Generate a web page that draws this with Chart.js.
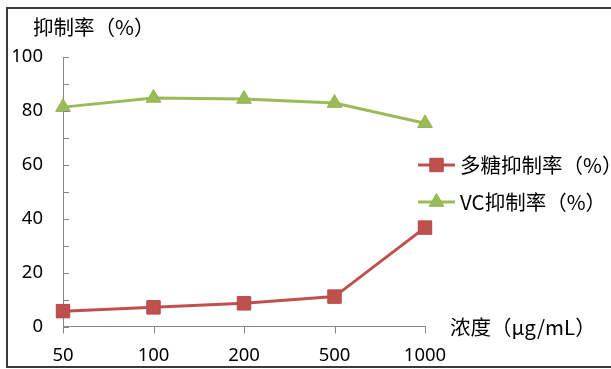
<!DOCTYPE html>
<html>
<head>
<meta charset="utf-8">
<script src="https://cdn.jsdelivr.net/npm/chart.js@4/dist/chart.umd.min.js"></script>
<style>
  html, body { margin: 0; padding: 0; background: #ffffff; }
  #wrap { position: relative; width: 611px; height: 369px; overflow: hidden; }
  #chart { position: absolute; left: 0; top: 0; }
  #frame {
    position: absolute; left: 6px; top: 7px; width: 620px; height: 357px;
    border: 2px solid #3a3a3a; pointer-events: none;
  }
</style>
</head>
<body>
<div id="wrap">
  <canvas id="chart" width="611" height="369"></canvas>
  <div id="frame"></div>
</div>
<script>
// Concentration groups on the x axis
const concentrations = ['50', '100', '200', '500', '1000'];
// Inhibition rate (%) of the polysaccharide sample
const polysaccharideRate = [5.7, 7.1, 8.6, 11.1, 36.7];
// Inhibition rate (%) of the VC control
const vcRate = [81.4, 84.8, 84.4, 82.9, 75.4];
// Value axis range, labelled and minor tick spacing
const yRange = [0, 100];
const yLabelStep = 20;
const yTickStep = 10;

const yTitle = '抑制率（%）';
const xTitle = '浓度（μg/mL）';
const seriesNames = ['多糖抑制率（%）', 'VC抑制率（%）'];

const RED = '#C0504D';
const GREEN = '#9BBB59';
const AXIS = '#868686';
const CJK_FONT = '"Noto Sans CJK SC", "Noto Sans", sans-serif';
const NUM_FONT = '"Noto Sans", "Liberation Sans", sans-serif';

// Tick marks, axis titles and the legend drawn on top of the chart
const decorations = {
  id: 'decorations',
  afterDraw(chart) {
    const ctx = chart.ctx;
    const xs = chart.scales.x, ys = chart.scales.y;
    const area = chart.chartArea;
    ctx.save();
    ctx.strokeStyle = AXIS;
    ctx.lineWidth = 1;
    ctx.beginPath();
    for (let v = yRange[0]; v <= yRange[1]; v += yTickStep) {
      const py = Math.round(ys.getPixelForValue(v)) + 0.5;
      ctx.moveTo(area.left, py);
      ctx.lineTo(area.left + 6, py);
    }
    concentrations.forEach((c, i) => {
      const px = Math.round(xs.getPixelForValue(i)) + 0.5;
      const py = ys.getPixelForValue(0);
      ctx.moveTo(px, py);
      ctx.lineTo(px, py + 7);
    });
    ctx.stroke();

    ctx.fillStyle = '#000000';
    ctx.font = '20.5px ' + CJK_FONT;
    ctx.textBaseline = 'middle';
    ctx.textAlign = 'left';
    ctx.fillText(yTitle, 33, 27);
    ctx.fillText(xTitle, 450, ys.getPixelForValue(0) + 1);

    // legend
    const rows = [165, 202];
    chart.data.datasets.forEach((ds, i) => {
      const y = rows[i];
      ctx.strokeStyle = ds.borderColor;
      ctx.lineWidth = ds.borderWidth;
      ctx.beginPath();
      ctx.moveTo(418, y);
      ctx.lineTo(455, y);
      ctx.stroke();
      ctx.fillStyle = ds.pointBackgroundColor;
      ctx.strokeStyle = ds.pointBorderColor;
      ctx.lineWidth = 1;
      Chart.helpers.drawPoint(ctx, {
        pointStyle: ds.pointStyle, rotation: 0, borderWidth: 1, radius: ds.pointRadius
      }, 436.5, y);
      ctx.fillStyle = '#000000';
      ctx.font = '20.5px ' + CJK_FONT;
      ctx.fillText(ds.label, 460, y);
    });
    ctx.restore();
  }
};

new Chart(document.getElementById('chart'), {
  type: 'line',
  data: {
    labels: concentrations,
    datasets: [
      {
        label: seriesNames[0],
        data: polysaccharideRate,
        borderColor: RED,
        backgroundColor: RED,
        borderWidth: 3,
        pointStyle: 'rect',
        pointRadius: 9.5,
        pointHoverRadius: 9.5,
        pointBackgroundColor: RED,
        pointBorderColor: '#B94643',
        pointBorderWidth: 1,
        tension: 0,
        clip: false
      },
      {
        label: seriesNames[1],
        data: vcRate,
        borderColor: GREEN,
        backgroundColor: GREEN,
        borderWidth: 3,
        pointStyle: 'triangle',
        pointRadius: 8.5,
        pointHoverRadius: 8.5,
        pointBackgroundColor: GREEN,
        pointBorderColor: '#93B352',
        pointBorderWidth: 1,
        tension: 0,
        clip: false
      }
    ]
  },
  options: {
    responsive: false,
    animation: false,
    events: [],
    layout: { padding: { left: 0, top: 57, right: 186, bottom: 0 } },
    plugins: { legend: { display: false }, tooltip: { enabled: false }, title: { display: false } },
    scales: {
      x: {
        type: 'category',
        offset: false,
        grid: { display: false, drawTicks: false, tickLength: 0 },
        border: { display: true, color: AXIS, width: 1 },
        ticks: {
          color: '#000000',
          font: { family: NUM_FONT, size: 18.5 },
          padding: 18,
          maxRotation: 0,
          autoSkip: false
        },
        afterFit(scale) { scale.height = 42.5; }
      },
      y: {
        min: yRange[0],
        max: yRange[1],
        grid: { display: false, drawTicks: false, tickLength: 0 },
        border: { display: true, color: AXIS, width: 1 },
        ticks: {
          stepSize: yLabelStep,
          color: '#000000',
          font: { family: NUM_FONT, size: 18.5 },
          padding: 20
        },
        afterFit(scale) { scale.width = 63; }
      }
    }
  },
  plugins: [decorations]
});
</script>
</body>
</html>
